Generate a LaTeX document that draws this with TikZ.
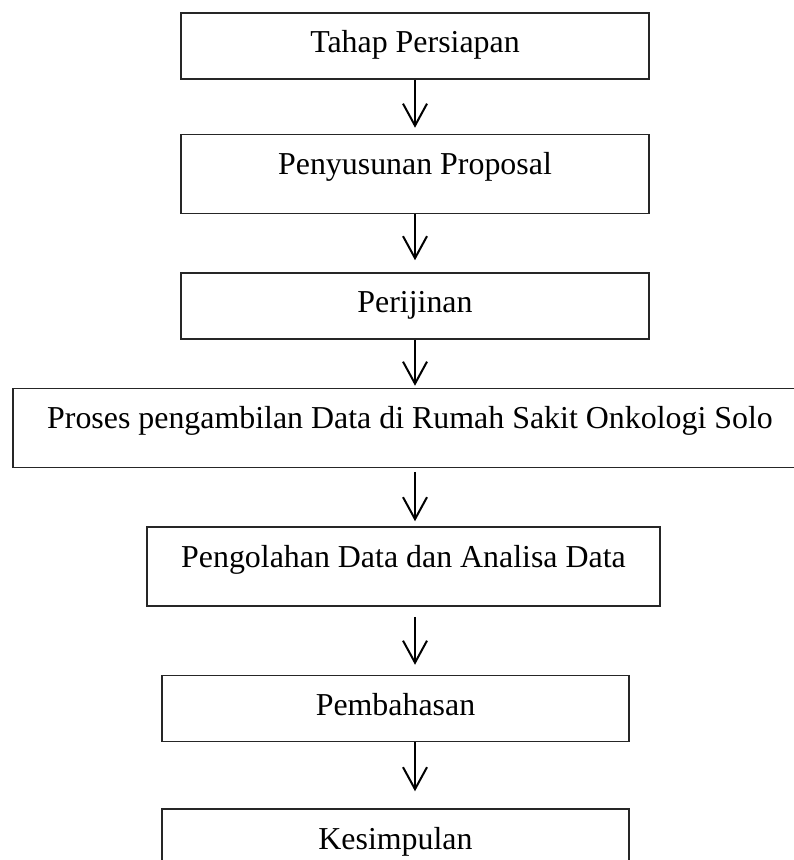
\documentclass[tikz,border=0pt]{standalone}
\usepackage{fontspec}
\setmainfont{Liberation Serif}
\usepackage{tikz}
\usetikzlibrary{arrows.meta, positioning}

\begin{document}
\begin{tikzpicture}[stage/.style={rectangle, draw=black!85, line width=0.75pt, inner sep=0pt, text height=20pt, text depth=13pt, font=\fontsize{15.95pt}{18pt}\selectfont},
        tall/.style={text depth=19.5pt},
        flow/.style={-{Straight Barb[length=11pt, width=12pt]}, line width=1pt},
        node distance=1cm]
        \useasboundingbox (-207.5pt,23pt) rectangle (189pt,-407pt);
        % tahapan penelitian
        \node[stage, minimum width=234pt] (tahap) {Tahap Persiapan};
        \node[stage, tall, minimum width=234pt] (proposal) [below = 27pt of tahap] {Penyusunan Proposal};
        \node[stage, minimum width=234pt] (ijin) [below = 29pt of proposal] {Perijinan};
        \node[stage, tall, minimum width=397pt] (ambil) [below = 24pt of ijin, xshift=-2.5pt] {Proses pengambilan Data di Rumah Sakit Onkologi Solo};
        \node[stage, tall, minimum width=256.5pt] (olah) [below = 29pt of ambil, xshift=-3.25pt] {Pengolahan Data dan Analisa Data};
        \node[stage, minimum width=233.5pt] (bahas) [below = 34pt of olah, xshift=-4pt] {Pembahasan};
        \node[stage, minimum width=233.5pt] (simpul) [below = 33pt of bahas] {Kesimpulan};
        
        \path[flow]  (tahap.south) edge [shorten >=3pt] (proposal.north -| tahap);
        \path[flow]  (proposal.south -| tahap) edge [shorten >=6pt] (ijin.north -| tahap);
        \path[flow]  (ijin.south -| tahap) edge [shorten >=1pt] (ambil.north -| tahap);
        \path[flow]  (ambil.south -| tahap) edge [shorten <=1.75pt, shorten >=2.5pt] (olah.north -| tahap);
        \path[flow]  (olah.south -| tahap) edge [shorten <=5pt, shorten >=5pt] (bahas.north -| tahap);
        \path[flow]  (bahas.south -| tahap) edge [shorten >=8.5pt] (simpul.north -| tahap);
    \end{tikzpicture}
\end{document}
